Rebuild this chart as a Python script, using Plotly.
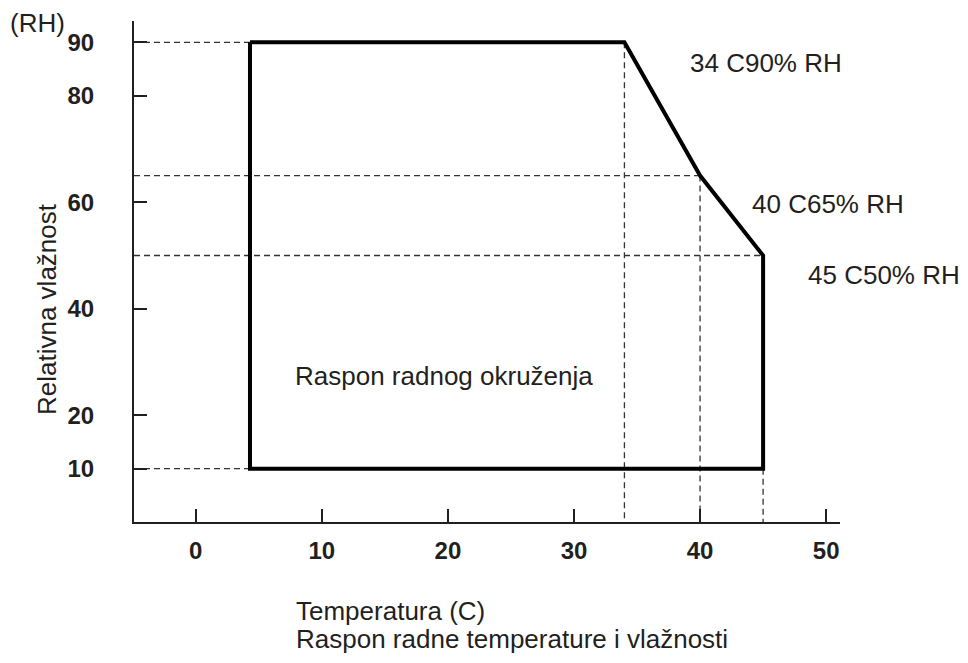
import plotly.graph_objects as go

# Operating envelope corners (temperature in C, relative humidity in %)
corner_temp = [4.3, 34, 40, 45, 45, 4.3, 4.3]
corner_rh = [90, 90, 65, 50, 10, 10, 90]

# Reference lines: horizontal guides to the RH axis, vertical guides to the temperature axis
h_guide_rh = [90, 65, 50, 10]
h_guide_to_temp = [4.3, 40, 45, 4.3]
v_guide_temp = [34, 40, 45]
v_guide_from_rh = [90, 65, 10]

x_ticks = [0, 10, 20, 30, 40, 50]
y_ticks = [10, 20, 40, 60, 80, 90]

corner_labels = ["34 C90% RH", "40 C65% RH", "45 C50% RH"]

X_MIN, X_MAX = -4.9, 51.1
Y_MIN, Y_MAX = 0, 94

W, H = 968, 663
ML, MR, MT, MB = 134, 128, 21, 141

FONT = "Liberation Sans, Arial, sans-serif"
INK = "#231f20"
TEXT_SIZE = 26
TICK_SIZE = 24

fig = go.Figure()

# dashed guides
for rh, t in zip(h_guide_rh, h_guide_to_temp):
    fig.add_trace(go.Scatter(x=[X_MIN, t], y=[rh, rh], mode="lines",
                             line=dict(color="#333333", width=1.3, dash="6px,4px"),
                             hoverinfo="skip", showlegend=False))
for t, rh in zip(v_guide_temp, v_guide_from_rh):
    fig.add_trace(go.Scatter(x=[t, t], y=[rh, Y_MIN], mode="lines",
                             line=dict(color="#333333", width=1.3, dash="6px,4px"),
                             hoverinfo="skip", showlegend=False))

# operating envelope outline
fig.add_trace(go.Scatter(x=corner_temp, y=corner_rh, mode="lines",
                         line=dict(color="black", width=4),
                         showlegend=False))

fig.update_layout(
    width=W, height=H,
    margin=dict(l=ML, r=MR, t=MT, b=MB),
    paper_bgcolor="white", plot_bgcolor="white",
    font=dict(family=FONT, color=INK, size=TEXT_SIZE),
    showlegend=False,
    xaxis=dict(
        range=[X_MIN, X_MAX], tickvals=x_ticks, ticks="inside", ticklen=13,
        tickwidth=2, tickcolor=INK, showline=True, linecolor=INK, linewidth=2,
        showgrid=False, zeroline=False, ticklabelstandoff=6,
        tickfont=dict(family=FONT, size=TICK_SIZE, color=INK, weight="bold"),
    ),
    yaxis=dict(
        range=[Y_MIN, Y_MAX], tickvals=y_ticks, ticks="inside", ticklen=13,
        tickwidth=2, tickcolor=INK, showline=True, linecolor=INK, linewidth=2,
        showgrid=False, zeroline=False, ticklabelstandoff=33,
        tickfont=dict(family=FONT, size=TICK_SIZE, color=INK, weight="bold"),
    ),
)


# text labels placed by page pixel position, expressed in paper coordinates
def page_text(text, px, py, xanchor="left", yanchor="middle", size=TEXT_SIZE, angle=0):
    fx = (px - ML) / (W - ML - MR)
    fy = 1 - (py - MT) / (H - MT - MB)
    fig.add_annotation(text=text, x=fx, y=fy, xref="paper", yref="paper",
                       xanchor=xanchor, yanchor=yanchor, showarrow=False, textangle=angle,
                       font=dict(family=FONT, size=size, color=INK))


page_text("(RH)", 8, 23, size=26)
page_text("Relativna vlažnost", 47, 309, xanchor="center", angle=-90)
page_text(corner_labels[0], 688, 63)
page_text(corner_labels[1], 750, 204)
page_text(corner_labels[2], 806, 275)
page_text("Raspon radnog okruženja", 293, 376)
page_text("Temperatura (C)", 294, 611)
page_text("Raspon radne temperature i vlažnosti", 294, 639)

fig.write_html("out.html")
